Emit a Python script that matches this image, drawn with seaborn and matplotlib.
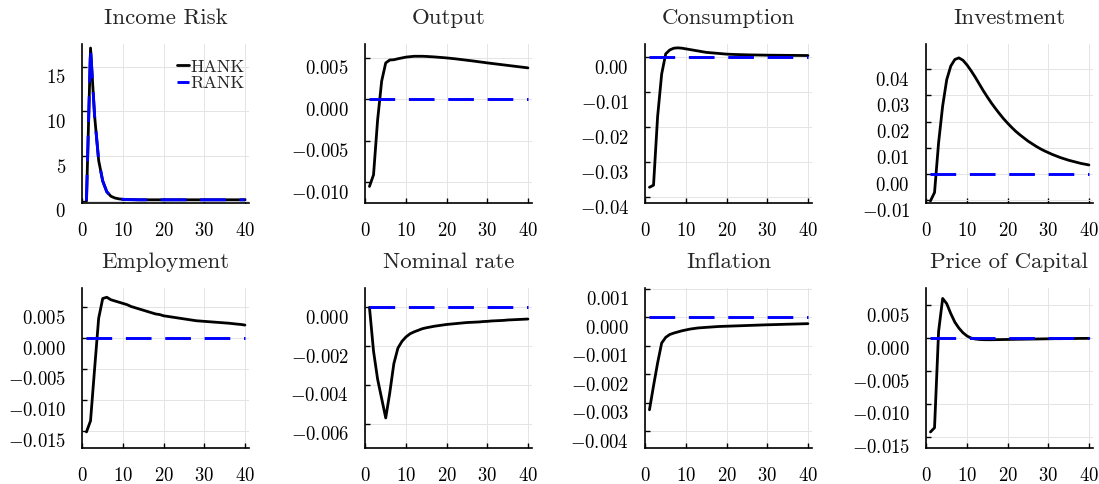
import matplotlib
matplotlib.use("Agg")
import matplotlib.pyplot as plt
import matplotlib.transforms as mtrans
from matplotlib.ticker import FixedLocator, FuncFormatter
import pandas as pd
import seaborn as sns

periods = list(range(1, 41))

titles = ["Income Risk", "Output", "Consumption", "Investment",
          "Employment", "Nominal rate", "Inflation", "Price of Capital"]

hank_income = [0.0, 17.1, 9.5, 4.5, 2.2, 1.0, 0.5, 0.3, 0.2, 0.15,
               0.13, 0.12, 0.11, 0.1, 0.1, 0.1, 0.1, 0.1, 0.1, 0.1,
               0.1, 0.1, 0.1, 0.1, 0.1, 0.1, 0.1, 0.1, 0.1, 0.1,
               0.1, 0.1, 0.1, 0.1, 0.1, 0.1, 0.1, 0.1, 0.1, 0.1]
rank_income = [0.0, 17.1, 9.5, 4.5, 2.2, 1.0, 0.5, 0.3, 0.2, 0.15,
               0.13, 0.12, 0.11, 0.1, 0.1, 0.1, 0.1, 0.1, 0.1, 0.1,
               0.1, 0.1, 0.1, 0.1, 0.1, 0.1, 0.1, 0.1, 0.1, 0.1,
               0.1, 0.1, 0.1, 0.1, 0.1, 0.1, 0.1, 0.1, 0.1, 0.1]
hank_output = [-0.0105, -0.0091, -0.0025, 0.0022, 0.0044, 0.00475, 0.00478, 0.0049, 0.0050, 0.0051,
               0.00515, 0.0052, 0.0052, 0.0052, 0.00518, 0.00515, 0.00512, 0.00508, 0.00504, 0.0050,
               0.00495, 0.0049, 0.00484, 0.00478, 0.00472, 0.00466, 0.0046, 0.00453, 0.00447, 0.0044,
               0.00434, 0.00428, 0.00422, 0.00416, 0.0041, 0.00404, 0.00398, 0.00392, 0.00386, 0.0038]
hank_consumption = [-0.0372, -0.0366, -0.0170, -0.0048, 0.0010, 0.0021, 0.0026, 0.0027, 0.0026, 0.0024,
                    0.0022, 0.0020, 0.0018, 0.0016, 0.0014, 0.0013, 0.0012, 0.0011, 0.0010, 0.0009,
                    0.00085, 0.0008, 0.00077, 0.00074, 0.0007, 0.00068, 0.00066, 0.00064, 0.00062, 0.0006,
                    0.00059, 0.00058, 0.00057, 0.00056, 0.00055, 0.00054, 0.00053, 0.00052, 0.00051, 0.0005]
hank_investment = [-0.0102, -0.0070, 0.0120, 0.0260, 0.0360, 0.0412, 0.0437, 0.0443, 0.0434, 0.0416,
                   0.0394, 0.0370, 0.0344, 0.0318, 0.0294, 0.0271, 0.0250, 0.0230, 0.0211, 0.0194,
                   0.0178, 0.0163, 0.0150, 0.0138, 0.0126, 0.0116, 0.0106, 0.0097, 0.0089, 0.0082,
                   0.0075, 0.0069, 0.0063, 0.0058, 0.0053, 0.0049, 0.0045, 0.0041, 0.0038, 0.0035]
hank_employment = [-0.0152, -0.0134, -0.0050, 0.0032, 0.0064, 0.0066, 0.0062, 0.0060, 0.0058, 0.0056,
                   0.0054, 0.0051, 0.0049, 0.0047, 0.0045, 0.0043, 0.0041, 0.0039, 0.0038, 0.0036,
                   0.0035, 0.0034, 0.0033, 0.0032, 0.0031, 0.0030, 0.0029, 0.0028, 0.00275, 0.0027,
                   0.00265, 0.0026, 0.00255, 0.0025, 0.00245, 0.0024, 0.00233, 0.00226, 0.0022, 0.0021]
hank_nominal = [0.0, -0.00226, -0.0037, -0.0047, -0.0057, -0.0044, -0.0029, -0.0021, -0.00175, -0.00152,
                -0.00136, -0.00126, -0.00118, -0.0011, -0.00105, -0.00101, -0.00097, -0.00094, -0.00091, -0.00088,
                -0.00086, -0.00084, -0.00082, -0.0008, -0.00078, -0.00077, -0.00076, -0.00075, -0.00073, -0.00072,
                -0.0007, -0.00069, -0.00068, -0.00067, -0.00065, -0.00064, -0.00063, -0.00062, -0.00061, -0.0006]
hank_inflation = [-0.00324, -0.0024, -0.0016, -0.0009, -0.0007, -0.0006, -0.00055, -0.00051, -0.00047, -0.00044,
                  -0.00041, -0.00039, -0.00037, -0.00036, -0.00035, -0.00034, -0.00033, -0.00032, -0.000315, -0.00031,
                  -0.000305, -0.0003, -0.000295, -0.00029, -0.000285, -0.00028, -0.000275, -0.00027, -0.000265, -0.00026,
                  -0.000256, -0.000252, -0.000248, -0.000244, -0.00024, -0.000236, -0.000232, -0.000228, -0.000224, -0.00022]
hank_price = [-0.01424, -0.0136, 0.0010, 0.0060, 0.0052, 0.0037, 0.0024, 0.0015, 0.0008, 0.0003,
              0.0, -0.00015, -0.00022, -0.00025, -0.00026, -0.00026, -0.00025, -0.00024, -0.00023, -0.00022,
              -0.00021, -0.0002, -0.00019, -0.00018, -0.00017, -0.00016, -0.00015, -0.00014, -0.00013, -0.00012,
              -0.00011, -0.0001, -0.0001, -0.00009, -0.00008, -0.00008, -0.00007, -0.00006, -0.00006, -0.00005]
rank_zero = [0.0] * 40

hank_series = [hank_income, hank_output, hank_consumption, hank_investment,
               hank_employment, hank_nominal, hank_inflation, hank_price]
rank_series = [rank_income, rank_zero, rank_zero, rank_zero,
               rank_zero, rank_zero, rank_zero, rank_zero]

y_ticks = [[0, 5, 10, 15],
           [-0.010, -0.005, 0.000, 0.005],
           [-0.04, -0.03, -0.02, -0.01, 0.00],
           [-0.01, 0.00, 0.01, 0.02, 0.03, 0.04],
           [-0.015, -0.010, -0.005, 0.000, 0.005],
           [-0.006, -0.004, -0.002, 0.000],
           [-0.004, -0.003, -0.002, -0.001, 0.000, 0.001],
           [-0.015, -0.010, -0.005, 0.000, 0.005]]
y_decimals = [0, 3, 2, 2, 3, 3, 3, 3]
y_limits = [(-0.26, 17.55), (-0.0125, 0.00668), (-0.0417, 0.0038), (-0.0110, 0.0496),
            (-0.0178, 0.0081), (-0.00725, 0.0010), (-0.00458, 0.00103), (-0.01667, 0.00758)]
x_ticks = [0, 10, 20, 30, 40]

sns.set_theme(style="ticks")
plt.rcParams.update({
    "font.family": ["cmr10"],
    "mathtext.fontset": "cm",
    "axes.formatter.use_mathtext": True,
    "axes.linewidth": 1.2,
    "axes.edgecolor": "black",
    "xtick.direction": "in",
    "ytick.direction": "in",
    "xtick.major.size": 3.5,
    "ytick.major.size": 3.5,
    "xtick.major.width": 1.0,
    "ytick.major.width": 1.0,
    "xtick.color": "black",
    "ytick.color": "black",
})

W, H = 1099, 484
fig = plt.figure(figsize=(W / 100, H / 100), dpi=100)
col_left = [82, 365, 645, 926]
row_top = [44, 288]
row_h = [159, 160]
ax_w = 167

for i in range(8):
    r, c = divmod(i, 4)
    ax = fig.add_axes([col_left[c] / W, (H - row_top[r] - row_h[r]) / H, ax_w / W, row_h[r] / H])
    df = pd.DataFrame({"t": periods, "HANK": hank_series[i], "RANK": rank_series[i]})
    sns.lineplot(data=df, x="t", y="HANK", ax=ax, color="black", lw=2.0,
                 label="HANK", estimator=None, errorbar=None, zorder=3)
    sns.lineplot(data=df, x="t", y="RANK", ax=ax, color="#0000ff", lw=2.1,
                 linestyle=(0, (8.8, 4.7)), label="RANK", estimator=None, errorbar=None, zorder=4)
    ax.set_xlim(-0.1, 41)
    ax.set_ylim(*y_limits[i])
    ax.xaxis.set_major_locator(FixedLocator(x_ticks))
    ax.yaxis.set_major_locator(FixedLocator(y_ticks[i]))
    d = y_decimals[i]
    ax.yaxis.set_major_formatter(FuncFormatter(
        lambda v, p, d=d: "$\\mathdefault{%s}$" % (("%." + str(d) + "f") % (0.0 if abs(v) < 1e-12 else v))))
    ax.xaxis.set_major_formatter(FuncFormatter(lambda v, p: "$\\mathdefault{%d}$" % int(round(v))))
    ax.set_xlabel("")
    ax.set_ylabel("")
    ax.grid(True, color="#e4e4e4", lw=0.7, zorder=0)
    ax.set_axisbelow(True)
    for s in ["top", "right"]:
        ax.spines[s].set_visible(False)
    ax.tick_params(axis="x", labelsize=13.5, pad=14)
    ax.tick_params(axis="y", labelsize=13.5, pad=11.5)
    ax.set_title(titles[i], fontsize=16.5, pad=14.5)
    off = mtrans.ScaledTranslation(0, -0.095, fig.dpi_scale_trans)
    for lab in ax.get_yticklabels():
        lab.set_transform(lab.get_transform() + off)
    if i == 0:
        ax.legend(loc="upper right", bbox_to_anchor=(0.975, 0.905), frameon=False, fontsize=13,
                  handlelength=0.65, handletextpad=0.1, labelspacing=0.05,
                  borderpad=0, borderaxespad=0)
    else:
        leg = ax.get_legend()
        if leg is not None:
            leg.remove()

fig.savefig("out.png", dpi=100)
